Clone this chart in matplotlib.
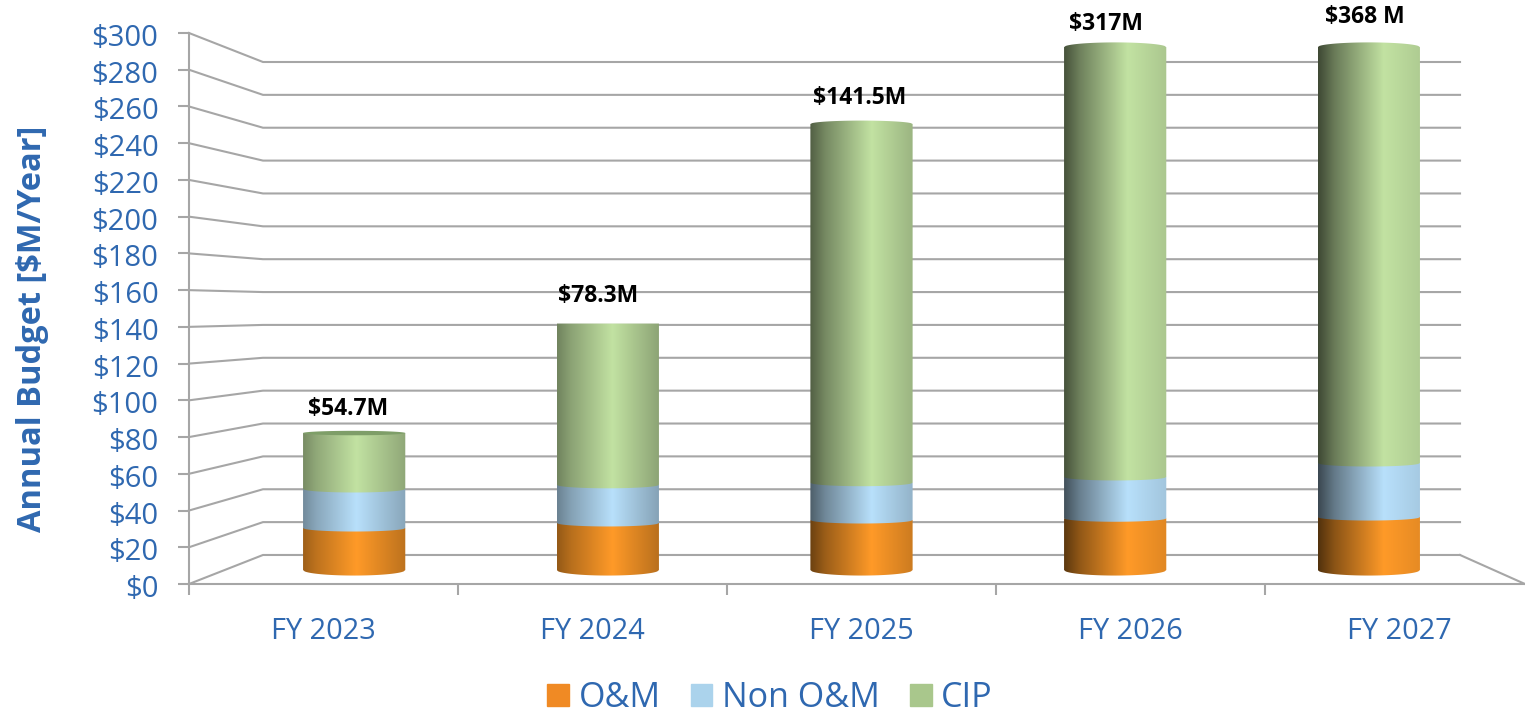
import numpy as np
import matplotlib
matplotlib.use('Agg') # Set non-interactive backend
import matplotlib.pyplot as plt
from matplotlib.colors import LinearSegmentedColormap, to_rgb
from matplotlib.patches import Patch, PathPatch
from matplotlib.path import Path
from matplotlib.transforms import ScaledTranslation

# Data ($M, as drawn against the axis)
years = ['FY 2023', 'FY 2024', 'FY 2025', 'FY 2026', 'FY 2027']
om = [24.1, 27.0, 28.7, 29.7, 30.4]
non_om = [22.4, 21.9, 21.4, 23.7, 31.0]
cip = [32.1, 92.5, 205.8, 246.6, 238.6]
totals = ['$54.7M', '$78.3M', '$141.5M', '$317M', '$368 M']
y_ticks = list(range(0, 301, 20))

# Style
plt.rcParams['font.family'] = ['Open Sans', 'DejaVu Sans']
BLUE_TEXT = '#2F68B0'
GRID = '#A6A6A6'
SWATCH = ['#F08A24', '#ABD3EC', '#A9C78C']
PEAK = ['#FF9A28', '#B8E0FB', '#C2E2A2']
# shade at the left edge, shade at the right edge, position of the highlight
SHADING = [(0.62, 0.74, 0.52), (0.58, 0.72, 0.54), (0.42, 0.80, 0.60), (0.36, 0.88, 0.62), (0.32, 0.90, 0.64)]
LABEL_OFFSET = [(-6, 24), (-10, 28), (-2, 26), (-9, 23), (-4, 30)]
BAR_WIDTH = 0.38
BASE_BULGE = 3.0
JOIN_BULGE = 1.9


def back(x, y):
    # front plane position -> position on the back wall
    return 2 + (x - 2) * 0.89, 15.8 + y * 0.8947


def bar_y(v):
    # bars stand half way into the box
    return 7.6 + v * 0.949


def draw_segment(ax, cx, v0, v1, color, shade, bulge, dome=0.0):
    left, right, peak = shade
    c = np.array(to_rgb(color))
    stops = [(0, c * left), (peak * 0.25, c * (left + 0.33 * (1 - left))), (peak, c), (1, c * right)]
    cmap = LinearSegmentedColormap.from_list('s', stops)
    t = np.linspace(-1, 1, 60)
    xs = cx + t * BAR_WIDTH / 2
    y0, y1 = bar_y(v0), bar_y(v1)
    low = y0 - bulge * np.sqrt(1 - t ** 2)
    high = y1 + dome * np.sqrt(1 - t ** 2)
    verts = np.r_[np.c_[xs, low], np.c_[xs[::-1], high[::-1]], [[xs[0], low[0]]]]
    clip = PathPatch(Path(verts), transform=ax.transData, fc='none', ec='none')
    grad = np.linspace(0, 1, 256)[None, :]
    im = ax.imshow(grad, cmap=cmap, aspect='auto', zorder=3, interpolation='bilinear',
                   extent=(xs[0], xs[-1], low.min() - 1, high.max() + 1))
    im.set_clip_path(clip)


fig = plt.figure(figsize=(15.25, 7.12), dpi=100)
ax = fig.add_axes([189 / 1525, 128 / 712, 1336 / 1525, 551 / 712])
x_max = (1525 - 323.5) / 269

# walls and floor
for v in y_ticks:
    bl = back(-0.5, v)
    br = back(4.5, v)
    ax.plot([-0.5, bl[0], br[0]], [v, bl[1], br[1]], color=GRID, lw=1.5, clip_on=False, zorder=1)
br = back(4.5, 0)
ax.plot([br[0], x_max], [br[1], 0], color=GRID, lw=1.5, clip_on=False, zorder=1)

# cylinders
for i in range(len(years)):
    cx = 2 + (i - 2) * 0.943
    stack = np.cumsum([0, om[i], non_om[i], cip[i]])
    top = stack[-1]
    curve = (top - 141) * 0.01625
    for j in range(3):
        dome = max(curve, 0) if j == 2 else 0.0
        bulge = BASE_BULGE if j == 0 else JOIN_BULGE
        draw_segment(ax, cx, stack[j], stack[j + 1], PEAK[j], SHADING[i], bulge, dome)
    if curve < 0:
        t = np.linspace(0, 2 * np.pi, 80)
        ax.fill(cx + np.cos(t) * BAR_WIDTH / 2, bar_y(top) + np.sin(t) * -curve * 1.2,
                color='#7E9E68', lw=0, zorder=4)
    ax.annotate(totals[i], (cx, bar_y(top)), xytext=LABEL_OFFSET[i], textcoords='offset pixels',
                ha='center', va='center', fontsize=16.5, fontweight='bold', color='black',
                annotation_clip=False, zorder=5)

ax.set_xlim(-0.5, x_max)
ax.set_ylim(0, 300)
for s in ['top', 'right']:
    ax.spines[s].set_visible(False)
for s in ['left', 'bottom']:
    ax.spines[s].set_color(GRID)
    ax.spines[s].set_linewidth(1.5)

ax.set_yticks(y_ticks)
ax.set_yticklabels([f'${v}' for v in y_ticks])
ax.tick_params(axis='y', length=8, width=1.5, color=GRID, labelcolor=BLUE_TEXT, labelsize=21, pad=14)
# tick labels sit a little under their ticks in the original
for lab in ax.get_yticklabels():
    lab.set_transform(lab.get_transform() + ScaledTranslation(0, -2 / 100, fig.dpi_scale_trans))
ax.set_xticks(range(5))
ax.set_xticklabels(years)
ax.tick_params(axis='x', which='major', length=0, labelcolor=BLUE_TEXT, labelsize=20.8, pad=24)
ax.set_xticks(np.arange(-0.5, 4.0, 1), minor=True)
ax.tick_params(axis='x', which='minor', length=8, width=1.5, color=GRID)
ax.set_ylabel('Annual Budget [$M/Year]', fontsize=23.5, fontweight='bold', color=BLUE_TEXT)
ax.yaxis.set_label_coords(-0.105, 0.4636)

handles = [Patch(color=c) for c in SWATCH]
fig.legend(handles, ['O&M', 'Non O&M', 'CIP'], loc='center', bbox_to_anchor=(770 / 1525, 1 - 698 / 712), ncol=3,
           frameon=False, fontsize=24.5, labelcolor=BLUE_TEXT, handlelength=0.64, handleheight=0.64,
           handletextpad=0.28, columnspacing=0.88)

fig.savefig('out.png', dpi=100)
